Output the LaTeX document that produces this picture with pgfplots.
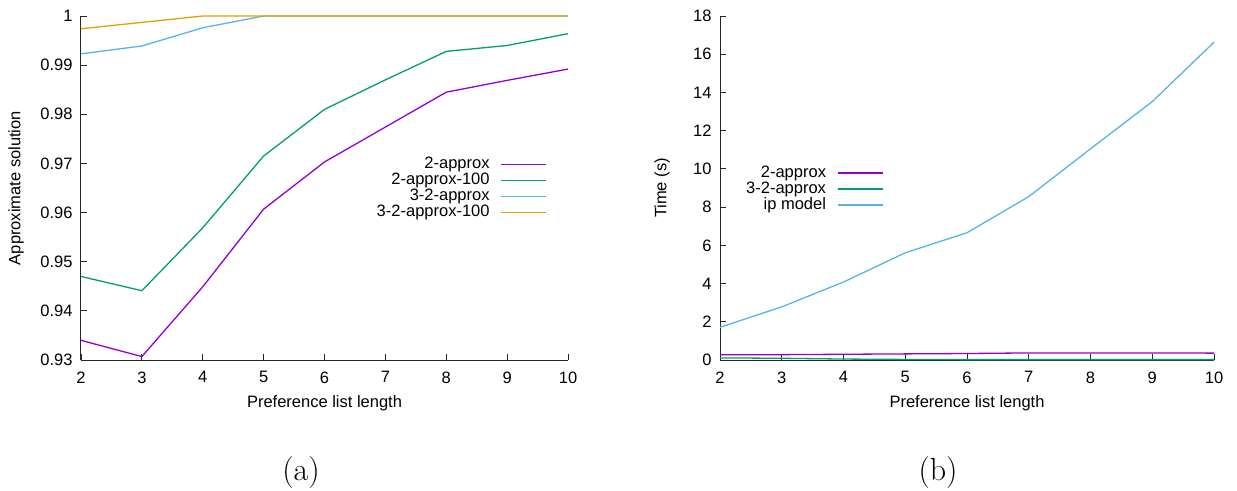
\documentclass[border=0pt]{standalone}
\usepackage{fontspec}
\newfontfamily\arialfont{Liberation Sans}
\usepackage{pgfplots}
\pgfplotsset{compat=1.18}

\definecolor{cpurple}{HTML}{9400D3}
\definecolor{cgreen}{HTML}{009E73}
\definecolor{cblue}{HTML}{56B4E9}
\definecolor{corange}{HTML}{E69F00}

\newcommand{\gpfont}{\arialfont\fontsize{16.5}{19}\selectfont}

\pgfplotsset{
  gp/.style={
    scale only axis, height=344pt,
    axis x line*=bottom, axis y line*=left,
    axis line style={line width=1pt, black!85, -},
    tick style={line width=0.8pt, black!85},
    major tick length=6pt,
    tick align=inside,
    xmin=2, xmax=10, xtick={2,...,10},
    font=\gpfont,
    tick label style={font=\gpfont},
    /pgf/number format/assume math mode=true,
    xticklabel style={yshift=-8pt},
    yticklabel style={xshift=-5pt},
    label style={font=\gpfont},
    xlabel={Preference list length},
    xlabel style={at={(axis description cs:0.5,-0.1221)}, anchor=center, yshift=-1.5pt},
    legend plot pos=right,
    legend cell align=right,
    legend image code/.code={\draw[##1, line width=1.5pt] (0pt,0pt) -- (45pt,0pt);},
    legend style={draw=none, fill=none, inner sep=0pt, outer sep=0pt, font=\gpfont,
      nodes={inner sep=0pt, text height=12pt, text depth=4pt}, column sep=11pt},
    every axis plot/.append style={line width=1.3pt, mark=none},
    clip=false,
  }
}

\begin{document}
\begin{tikzpicture}
\path[use as bounding box] (0,0) rectangle (1237pt,-490pt);

\begin{axis}[gp, width=487pt, at={(81pt,-360pt)}, anchor=south west,
  ymin=0.93, ymax=1,
  ytick={0.93,0.94,0.95,0.96,0.97,0.98,0.99,1},
  yticklabel style={/pgf/number format/fixed, /pgf/number format/precision=2},
  ylabel={Approximate solution},
  ylabel style={at={(axis description cs:-0.1335,0.5)}, anchor=center, rotate=0},
  legend style={at={(0.957,0.4985)}, anchor=east},
]
\addplot[cpurple] coordinates {(2,0.9340) (3,0.9307) (4,0.9449) (5,0.9607) (6,0.9703) (7,0.9774) (8,0.9845) (9,0.9869) (10,0.9892)};
\addlegendentry{2-approx}
\addplot[cgreen] coordinates {(2,0.9470) (3,0.9441) (4,0.9569) (5,0.9715) (6,0.9810) (7,0.9870) (8,0.9928) (9,0.9940) (10,0.9964)};
\addlegendentry{2-approx-100}
\addplot[cblue] coordinates {(2,0.9923) (3,0.9939) (4,0.9976) (5,1) (6,1) (7,1) (8,1) (9,1) (10,1)};
\addlegendentry{3-2-approx}
\addplot[corange] coordinates {(2,0.9974) (3,0.9987) (4,1) (5,1) (6,1) (7,1) (8,1) (9,1) (10,1)};
\addlegendentry{3-2-approx-100}
\end{axis}

\begin{axis}[gp, width=494pt, at={(720pt,-360pt)}, anchor=south west,
  ymin=0, ymax=18,
  ytick={0,2,4,6,8,10,12,14,16,18},
  ylabel={Time (s)},
  ylabel style={at={(axis description cs:-0.1174,0.5)}, anchor=center, rotate=0},
  legend style={at={(0.331,0.497)}, anchor=east},
]
\addplot[cpurple] coordinates {(2,0.28) (3,0.28) (4,0.30) (5,0.32) (6,0.34) (7,0.37) (8,0.37) (9,0.37) (10,0.36)};
\addlegendentry{2-approx}
\addplot[cgreen] coordinates {(2,0.11) (3,0.09) (4,0.05) (5,0.03) (6,0.02) (7,0.02) (8,0.02) (9,0.02) (10,0.02)};
\addlegendentry{3-2-approx}
\addplot[cblue] coordinates {(2,1.71) (3,2.78) (4,4.08) (5,5.61) (6,6.66) (7,8.55) (8,11.05) (9,13.52) (10,16.63)};
\addlegendentry{ip model}
\end{axis}

\node[font=\fontsize{32}{38}\selectfont] at (301pt,-473pt) {(a)};
\node[font=\fontsize{32}{38}\selectfont] at (938pt,-473pt) {(b)};
\end{tikzpicture}
\end{document}
